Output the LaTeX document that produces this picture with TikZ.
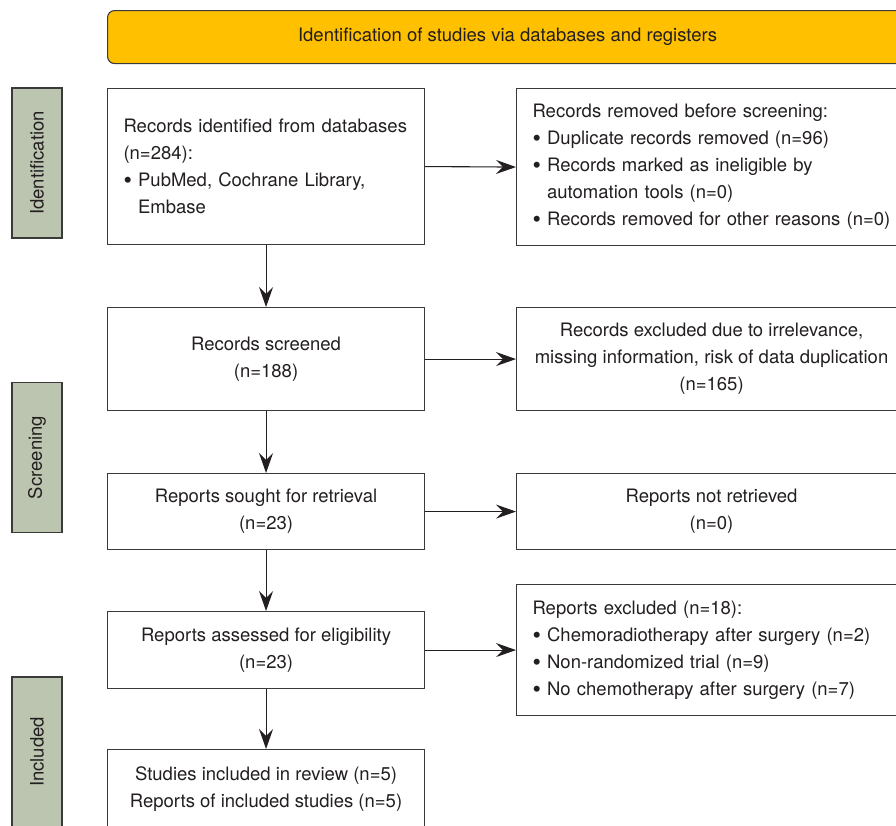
\documentclass[tikz,border=0pt]{standalone}
\usepackage{fontspec}
\setmainfont{TeX Gyre Heros}
\usetikzlibrary{arrows.meta}

\definecolor{bannerfill}{RGB}{255,192,0}
\definecolor{stagefill}{RGB}{188,197,176}
\definecolor{edge}{RGB}{58,58,58}
\definecolor{ink}{RGB}{35,31,32}

% bullet of the lists
\newcommand{\pbul}{\raisebox{-0.1em}{\scalebox{1.3}{\textbullet}}\ }

\begin{document}
\begin{tikzpicture}[x=1pt, y=-1pt, font=\fontsize{18.5}{27}\selectfont, text=ink]

    % page size, cut like the original
    \useasboundingbox (0,0) rectangle (896,825);
    \clip (0,0) rectangle (896,825);

    % Styles
    \tikzstyle{box}=[draw=edge, line width=1.1pt, fill=white, anchor=north west, inner sep=0pt]
    \tikzstyle{lbox}=[box, inner xsep=16pt, align=left]
    \tikzstyle{cbox}=[box, align=center]
    \tikzstyle{stage}=[draw=edge, line width=1.1pt, fill=stagefill, rotate=90,
        minimum width=150pt, minimum height=50pt, inner sep=0pt]
    \tikzstyle{arr}=[draw=ink, line width=1.1pt, -{Stealth[length=20pt, width=14pt, inset=7pt]}]

    % header
    \node[box, fill=bannerfill, rounded corners=7pt, minimum width=800pt, minimum height=53pt]
        (head) at (107,10) {Identification of studies via databases and registers};

    % stages
    \node[stage] (sident) at (37,163) {Identification};
    \node[stage] (sscreen) at (37,457.5) {Screening};
    \node[stage] (sincl) at (37,752) {Included};

    % left column
    \node[lbox, text width=285pt, minimum height=156pt] (ident) at (107,88)
        {Records identified from databases\\(n=284):\\\pbul PubMed, Cochrane Library,\\\hphantom{\pbul}Embase};
    \node[cbox, minimum width=317pt, minimum height=103pt] (screened) at (107,307)
        {Records screened\\(n=188)};
    \node[cbox, minimum width=317pt, minimum height=76pt] (sought) at (107,473)
        {Reports sought for retrieval\\(n=23)};
    \node[cbox, minimum width=317pt, minimum height=77pt] (assessed) at (107,611)
        {Reports assessed for eligibility\\(n=23)};
    \node[cbox, minimum width=317pt, minimum height=79pt] (included) at (107,749)
        {Studies included in review (n=5)\\Reports of included studies (n=5)};

    % right column
    \node[lbox, text width=370pt, minimum height=157pt] (removed) at (516,88)
        {Records removed before screening:\\\pbul Duplicate records removed (n=96)\\\pbul Records marked as ineligible by\\\hphantom{\pbul}automation tools (n=0)\\\pbul Records removed for other reasons (n=0)};
    \node[cbox, minimum width=390pt, minimum height=103pt] (excluded) at (516,307)
        {Records excluded due to irrelevance,\\missing information, risk of data duplication\\(n=165)};
    \node[cbox, minimum width=390pt, minimum height=76pt] (notret) at (516,473)
        {Reports not retrieved\\(n=0)};
    \node[lbox, text width=370pt, minimum height=131pt] (repexcl) at (516,584)
        {Reports excluded (n=18):\\\pbul Chemoradiotherapy after surgery (n=2)\\\pbul Non-randomized trial (n=9)\\\pbul No chemotherapy after surgery (n=7)};

    % flow down
    \draw[arr] (ident.south) -- (screened.north);
    \draw[arr] (screened.south) -- (sought.north);
    \draw[arr] (sought.south) -- (assessed.north);
    \draw[arr] (assessed.south) -- (included.north);

    % flow right
    \draw[arr] (ident.east) -- (removed.west);
    \draw[arr] (screened.east) -- (excluded.west);
    \draw[arr] (sought.east) -- (notret.west);
    \draw[arr] (assessed.east) -- (repexcl.west);

\end{tikzpicture}
\end{document}
